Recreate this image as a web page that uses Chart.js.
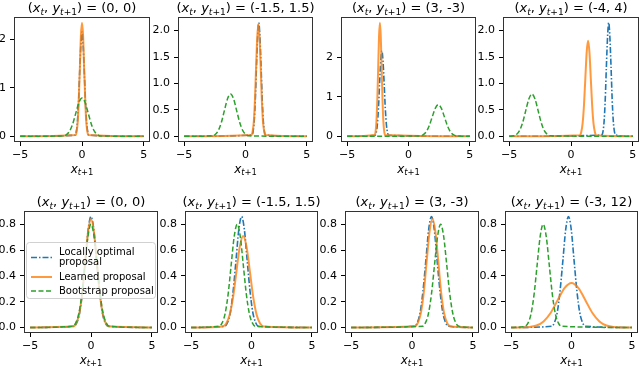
<!DOCTYPE html>
<html>
<head>
<meta charset="utf-8">
<script src="https://cdn.jsdelivr.net/npm/chart.js@4.4.0/dist/chart.umd.min.js"></script>
<style>
  html, body { margin: 0; padding: 0; background: #fff; overflow: hidden; }
  #fig { position: relative; width: 640px; height: 366px; }
  #fig canvas { position: absolute; }
</style>
</head>
<body>
<div id="fig"></div>
<script>
const FONT = "'DejaVu Sans', sans-serif";

// conditioning values (x_t, y_{t+1}) for each panel
const titles = ["(0, 0)", "(-1.5, 1.5)", "(3, -3)", "(-4, 4)", "(0, 0)", "(-1.5, 1.5)", "(3, -3)", "(-3, 12)"];
const seriesNames = ["Locally optimal proposal", "Learned proposal", "Bootstrap proposal"];
const xTicks = [-5, 0, 5];
const yTicks = [
  [0, 1, 2], [0, 0.5, 1, 1.5, 2], [0, 1, 2], [0, 0.5, 1, 1.5, 2],
  [0, 0.2, 0.4, 0.6, 0.8], [0, 0.2, 0.4, 0.6, 0.8], [0, 0.2, 0.4, 0.6, 0.8], [0, 0.2, 0.4, 0.6, 0.8]
];
const yDecimals = [0, 1, 0, 1, 1, 1, 1, 1];

// densities, one row per panel
const optimalX = [
  [-5, -0.56, -0.46, -0.37, -0.28, -0.19, -0.09, 0, 0.09, 0.19, 0.28, 0.37, 0.46, 0.56, 5],
  [-5, 0.52, 0.62, 0.71, 0.80, 0.89, 0.99, 1.08, 1.17, 1.27, 1.36, 1.45, 1.54, 1.64, 5],
  [-5, -2.73, -2.63, -2.54, -2.45, -2.36, -2.26, -2.17, -2.08, -1.98, -1.89, -1.80, -1.71, -1.61, 5],
  [-5, 2.49, 2.59, 2.68, 2.77, 2.86, 2.96, 3.05, 3.14, 3.24, 3.33, 3.42, 3.51, 3.61, 5],
  [-5, -1.39, -1.16, -0.93, -0.70, -0.46, -0.23, 0, 0.23, 0.46, 0.70, 0.93, 1.16, 1.39, 5],
  [-5, -2.21, -1.98, -1.75, -1.52, -1.28, -1.05, -0.82, -0.59, -0.36, -0.12, 0.11, 0.34, 0.57, 5],
  [-5, 0.21, 0.44, 0.67, 0.90, 1.14, 1.37, 1.6, 1.83, 2.06, 2.30, 2.53, 2.76, 2.99, 5],
  [-5, -1.64, -1.41, -1.18, -0.95, -0.71, -0.48, -0.25, -0.02, 0.21, 0.45, 0.68, 0.91, 1.14, 5]
];
const optimalY = [
  [0, 0.024, 0.095, 0.292, 0.702, 1.311, 1.907, 2.16, 1.907, 1.311, 0.702, 0.292, 0.095, 0.024, 0],
  [0, 0.024, 0.095, 0.290, 0.699, 1.305, 1.898, 2.15, 1.898, 1.305, 0.699, 0.290, 0.095, 0.024, 0],
  [0, 0.024, 0.095, 0.292, 0.702, 1.311, 1.907, 2.16, 1.907, 1.311, 0.702, 0.292, 0.095, 0.024, 0],
  [0, 0.024, 0.095, 0.290, 0.699, 1.305, 1.898, 2.15, 1.898, 1.305, 0.699, 0.290, 0.095, 0.024, 0],
  [0, 0.009, 0.038, 0.116, 0.280, 0.522, 0.759, 0.86, 0.759, 0.522, 0.280, 0.116, 0.038, 0.009, 0],
  [0, 0.009, 0.038, 0.116, 0.280, 0.522, 0.759, 0.86, 0.759, 0.522, 0.280, 0.116, 0.038, 0.009, 0],
  [0, 0.009, 0.038, 0.116, 0.280, 0.522, 0.759, 0.86, 0.759, 0.522, 0.280, 0.116, 0.038, 0.009, 0],
  [0, 0.009, 0.038, 0.116, 0.280, 0.522, 0.759, 0.86, 0.759, 0.522, 0.280, 0.116, 0.038, 0.009, 0]
];
const learnedX = [
  [-5, -0.51, -0.43, -0.34, -0.26, -0.17, -0.09, 0, 0.09, 0.17, 0.26, 0.34, 0.43, 0.51, 5],
  [-5, 0.49, 0.58, 0.68, 0.77, 0.86, 0.96, 1.05, 1.14, 1.24, 1.33, 1.42, 1.52, 1.61, 5],
  [-5, -2.75, -2.68, -2.61, -2.54, -2.47, -2.40, -2.33, -2.26, -2.19, -2.12, -2.05, -1.98, -1.91, 5],
  [-5, 0.72, 0.83, 0.94, 1.05, 1.16, 1.27, 1.38, 1.49, 1.60, 1.71, 1.82, 1.93, 2.04, 5],
  [-5, -1.43, -1.19, -0.95, -0.71, -0.48, -0.24, 0, 0.24, 0.48, 0.71, 0.95, 1.19, 1.43, 5],
  [-5, -2.37, -2.09, -1.81, -1.53, -1.25, -0.97, -0.69, -0.41, -0.13, 0.15, 0.43, 0.71, 0.99, 5],
  [-5, 0.25, 0.49, 0.73, 0.97, 1.20, 1.44, 1.68, 1.92, 2.16, 2.39, 2.63, 2.87, 3.11, 5],
  [-5, -3.47, -2.89, -2.31, -1.73, -1.16, -0.58, 0, 0.58, 1.16, 1.73, 2.31, 2.89, 3.47, 5]
];
const learnedY = [
  [0, 0.026, 0.103, 0.317, 0.764, 1.426, 2.075, 2.35, 2.075, 1.426, 0.764, 0.317, 0.103, 0.026, 0],
  [0, 0.023, 0.094, 0.288, 0.692, 1.293, 1.881, 2.13, 1.881, 1.293, 0.692, 0.288, 0.094, 0.023, 0],
  [0, 0.032, 0.126, 0.387, 0.933, 1.742, 2.534, 2.87, 2.534, 1.742, 0.933, 0.387, 0.126, 0.032, 0],
  [0, 0.020, 0.080, 0.244, 0.588, 1.099, 1.598, 1.81, 1.598, 1.099, 0.588, 0.244, 0.080, 0.020, 0],
  [0, 0.009, 0.037, 0.113, 0.273, 0.510, 0.742, 0.84, 0.742, 0.510, 0.273, 0.113, 0.037, 0.009, 0],
  [0, 0.008, 0.031, 0.096, 0.231, 0.431, 0.627, 0.71, 0.627, 0.431, 0.231, 0.096, 0.031, 0.008, 0],
  [0, 0.009, 0.037, 0.113, 0.273, 0.510, 0.742, 0.84, 0.742, 0.510, 0.273, 0.113, 0.037, 0.009, 0],
  [0, 0.004, 0.015, 0.047, 0.112, 0.209, 0.305, 0.345, 0.305, 0.209, 0.112, 0.047, 0.015, 0.004, 0]
];
const bootstrapX = [
  [-5, -1.5, -1.25, -1, -0.75, -0.5, -0.25, 0, 0.25, 0.5, 0.75, 1, 1.25, 1.5, 5],
  [-5, -2.72, -2.47, -2.22, -1.97, -1.72, -1.47, -1.22, -0.97, -0.72, -0.47, -0.22, 0.03, 0.28, 5],
  [-5, 0.93, 1.18, 1.43, 1.68, 1.93, 2.18, 2.43, 2.68, 2.93, 3.18, 3.43, 3.68, 3.93, 5],
  [-5, -4.66, -4.41, -4.16, -3.91, -3.66, -3.41, -3.16, -2.91, -2.66, -2.41, -2.16, -1.91, -1.66, 5],
  [-5, -1.5, -1.25, -1, -0.75, -0.5, -0.25, 0, 0.25, 0.5, 0.75, 1, 1.25, 1.5, 5],
  [-5, -2.68, -2.43, -2.18, -1.93, -1.68, -1.43, -1.18, -0.93, -0.68, -0.43, -0.18, 0.07, 0.32, 5],
  [-5, 0.85, 1.1, 1.35, 1.6, 1.85, 2.1, 2.35, 2.6, 2.85, 3.1, 3.35, 3.6, 3.85, 5],
  [-5, -3.84, -3.59, -3.34, -3.09, -2.84, -2.59, -2.34, -2.09, -1.84, -1.59, -1.34, -1.09, -0.84, 5]
];
const bootstrapY = [
  [0, 0.009, 0.035, 0.107, 0.257, 0.480, 0.698, 0.79, 0.698, 0.480, 0.257, 0.107, 0.035, 0.009, 0],
  [0, 0.009, 0.035, 0.108, 0.260, 0.486, 0.706, 0.8, 0.706, 0.486, 0.260, 0.108, 0.035, 0.009, 0],
  [0, 0.009, 0.035, 0.108, 0.260, 0.486, 0.706, 0.8, 0.706, 0.486, 0.260, 0.108, 0.035, 0.009, 0],
  [0, 0.009, 0.035, 0.108, 0.260, 0.486, 0.706, 0.8, 0.706, 0.486, 0.260, 0.108, 0.035, 0.009, 0],
  [0, 0.009, 0.035, 0.108, 0.260, 0.486, 0.706, 0.8, 0.706, 0.486, 0.260, 0.108, 0.035, 0.009, 0],
  [0, 0.009, 0.035, 0.108, 0.260, 0.486, 0.706, 0.8, 0.706, 0.486, 0.260, 0.108, 0.035, 0.009, 0],
  [0, 0.009, 0.035, 0.108, 0.260, 0.486, 0.706, 0.8, 0.706, 0.486, 0.260, 0.108, 0.035, 0.009, 0],
  [0, 0.009, 0.035, 0.108, 0.260, 0.486, 0.706, 0.8, 0.706, 0.486, 0.260, 0.108, 0.035, 0.009, 0]
];

// axes boxes on the page: left, top, width, height
const boxes = [
  [14, 17, 136, 125], [178, 17, 135, 125], [341, 17, 135, 125], [503, 17, 136, 125],
  [24, 211, 134, 122], [185, 211, 133, 122], [345, 211, 134, 122], [505, 211, 133, 122]
];
const PAD_L = 32, PAD_T = 18, PAD_R = 8, PAD_B = 36;

const styles = [
  { color: '#1f77b4', width: 1.6, dash: [6, 2, 1.5, 2], order: 2 },
  { color: 'rgba(255,127,14,0.8)', width: 2, dash: [], order: 1 },
  { color: '#2ca02c', width: 1.5, dash: [5, 2.5], order: 0 }
];

function toPoints(xs, ys) {
  return xs.map((x, k) => ({ x: x, y: ys[k] }));
}

// text with italic / subscript runs, centred on cx
function drawRich(ctx, parts, cx, baseY, size) {
  const fontOf = p => (p[1] ? 'italic ' : '') + (p[2] ? size * 0.7 : size) + 'px ' + FONT;
  let w = 0;
  parts.forEach(p => { ctx.font = fontOf(p); w += ctx.measureText(p[0]).width; });
  let x = cx - w / 2;
  ctx.textAlign = 'left';
  ctx.textBaseline = 'alphabetic';
  parts.forEach(p => {
    ctx.font = fontOf(p);
    ctx.fillText(p[0], x, baseY + (p[2] ? size * 0.22 : 0));
    x += ctx.measureText(p[0]).width;
  });
}

function drawLegend(ctx, ca) {
  const L = ca.left, T = ca.top;
  ctx.save();
  ctx.beginPath();
  ctx.roundRect(L + 2.5, T + 31.5, 129, 56, 3);
  ctx.fillStyle = 'rgba(255,255,255,0.8)';
  ctx.fill();
  ctx.strokeStyle = 'rgba(204,204,204,0.9)';
  ctx.lineWidth = 1;
  ctx.stroke();
  const rows = [
    { y: T + 46.5, lines: [["Locally optimal", T + 41], ["proposal", T + 51]] },
    { y: T + 66, lines: [["Learned proposal", T + 66]] },
    { y: T + 80, lines: [["Bootstrap proposal", T + 80]] }
  ];
  rows.forEach((r, k) => {
    const s = styles[k];
    ctx.beginPath();
    ctx.setLineDash(s.dash);
    ctx.strokeStyle = s.color;
    ctx.lineWidth = s.width;
    ctx.moveTo(L + 7, r.y);
    ctx.lineTo(L + 28, r.y);
    ctx.stroke();
    ctx.setLineDash([]);
    ctx.fillStyle = '#000';
    ctx.font = '10px ' + FONT;
    ctx.textAlign = 'left';
    ctx.textBaseline = 'middle';
    r.lines.forEach(t => ctx.fillText(t[0], L + 35, t[1]));
  });
  ctx.restore();
}

const fig = document.getElementById('fig');

boxes.forEach((b, i) => {
  const cv = document.createElement('canvas');
  const W = b[2] + PAD_L + PAD_R, H = b[3] + PAD_T + PAD_B;
  cv.width = W; cv.height = H;
  cv.style.left = (b[0] - PAD_L) + 'px';
  cv.style.top = (b[1] - PAD_T) + 'px';
  cv.style.width = W + 'px';
  cv.style.height = H + 'px';
  fig.appendChild(cv);

  const allY = optimalY[i].concat(learnedY[i], bootstrapY[i]);
  const yMax = Math.max(...allY), yMin = Math.min(...allY);
  const margin = (yMax - yMin) * 0.05;

  const series = [[optimalX[i], optimalY[i]], [learnedX[i], learnedY[i]], [bootstrapX[i], bootstrapY[i]]];
  const datasets = series.map((s, k) => ({
    label: seriesNames[k],
    data: toPoints(s[0], s[1]),
    borderColor: styles[k].color,
    borderWidth: styles[k].width,
    borderDash: styles[k].dash,
    order: styles[k].order,
    pointRadius: 0,
    fill: false,
    cubicInterpolationMode: 'monotone'
  }));

  const frame = {
    id: 'frame' + i,
    afterDraw(chart) {
      const ctx = chart.ctx, ca = chart.chartArea;
      ctx.save();
      ctx.strokeStyle = '#333';
      ctx.lineWidth = 1;
      ctx.strokeRect(Math.round(ca.left) + 0.5, Math.round(ca.top) + 0.5,
        Math.round(ca.right - ca.left) - 1, Math.round(ca.bottom - ca.top) - 1);
      ctx.fillStyle = '#000';
      const cx = (ca.left + ca.right) / 2;
      drawRich(ctx, [["(", 0, 0], ["x", 1, 0], ["t", 1, 1], [", ", 0, 0], ["y", 1, 0], ["t", 1, 1], ["+1", 0, 1],
        [") = " + titles[i], 0, 0]], cx, ca.top - 5, 13);
      drawRich(ctx, [["x", 1, 0], ["t", 1, 1], ["+1", 0, 1]], cx, ca.bottom + 30.5, 12);
      if (i === 4) drawLegend(ctx, ca);
      ctx.restore();
    }
  };

  new Chart(cv, {
    type: 'line',
    data: { datasets: datasets },
    options: {
      responsive: false,
      animation: false,
      events: [],
      layout: { padding: { left: 0, top: PAD_T, right: PAD_R, bottom: 0 } },
      plugins: { legend: { display: false }, tooltip: { enabled: false } },
      scales: {
        x: {
          type: 'linear',
          min: -5.5,
          max: 5.5,
          afterBuildTicks: s => { s.ticks = xTicks.map(v => ({ value: v })); },
          afterFit: s => { s.height = PAD_B; s.paddingLeft = 0; s.paddingRight = 0; },
          ticks: {
            autoSkip: false, maxRotation: 0, padding: 3, color: '#000',
            font: { family: FONT, size: 11 },
            callback: v => (v < 0 ? '\u2212' + Math.abs(v) : String(v))
          },
          grid: { drawOnChartArea: false, drawTicks: true, tickLength: 4, color: '#000' },
          border: { display: false }
        },
        y: {
          type: 'linear',
          min: yMin - margin,
          max: yMax + margin,
          afterBuildTicks: s => { s.ticks = yTicks[i].map(v => ({ value: v })); },
          afterFit: s => { s.width = PAD_L; s.paddingTop = 0; s.paddingBottom = 0; },
          ticks: {
            autoSkip: false, padding: 4, color: '#000',
            font: { family: FONT, size: 11 },
            callback: v => v.toFixed(yDecimals[i])
          },
          grid: { drawOnChartArea: false, drawTicks: true, tickLength: 4, color: '#000' },
          border: { display: false }
        }
      }
    },
    plugins: [frame]
  });
});
</script>
</body>
</html>
